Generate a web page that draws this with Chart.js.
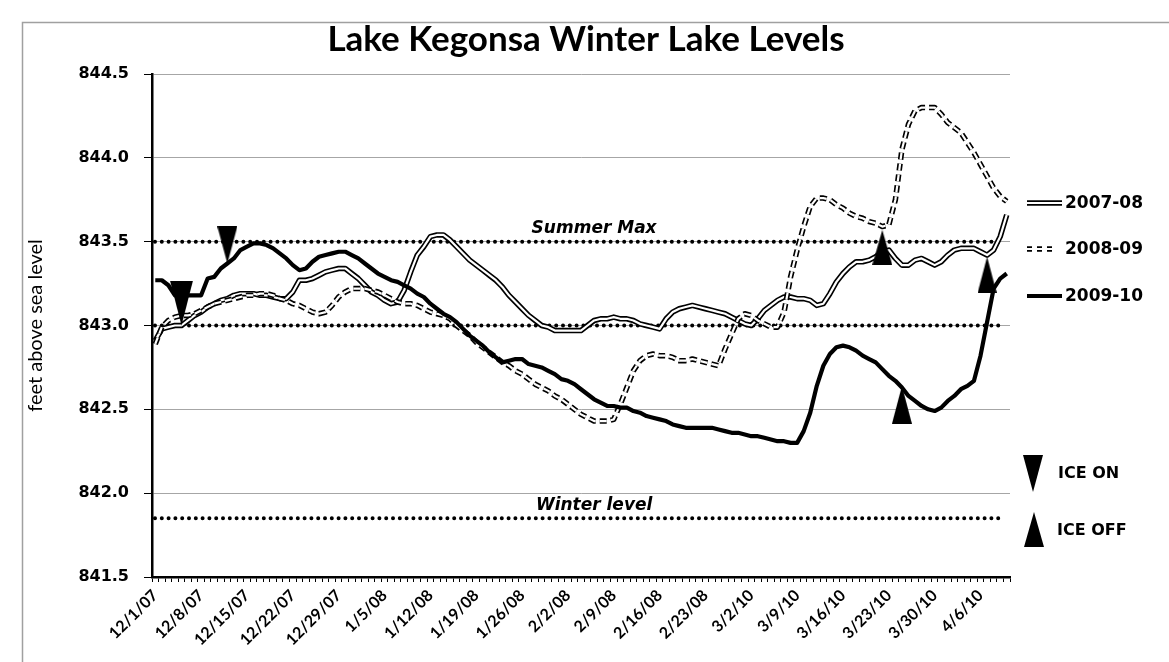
<!DOCTYPE html>
<html><head><meta charset="utf-8">
<script src="https://cdn.jsdelivr.net/npm/chart.js@4.4.0/dist/chart.umd.min.js"></script>
<style>html,body{margin:0;padding:0;background:#fff}#wrap{width:1169px;height:662px;position:relative}</style>
</head><body><div id="wrap"><canvas id="c" width="1169" height="662"></canvas></div>
<script>
const chartTitle = 'Lake Kegonsa Winter Lake Levels';
const yAxisTitle = 'feet above sea level';
const tickLabels = ['12/1/07','12/8/07','12/15/07','12/22/07','12/29/07','1/5/08','1/12/08','1/19/08','1/26/08','2/2/08','2/9/08','2/16/08','2/23/08','3/2/10','3/9/10','3/16/10','3/23/10','3/30/10','4/6/10'];
const dayCount = 131;
const seriesNames = ['2007-08','2008-09','2009-10'];
const markerNames = ['ICE ON','ICE OFF'];

const level2007_08 = [
842.91,842.98,842.99,843.00,843.00,843.03,843.06,843.08,843.11,843.13,
843.15,843.16,843.18,843.19,843.19,843.19,843.18,843.18,843.17,843.16,
843.16,843.20,843.27,843.27,843.28,843.30,843.32,843.33,843.34,843.34,
843.31,843.28,843.24,843.20,843.18,843.15,843.13,843.14,843.21,843.32,
843.42,843.47,843.53,843.54,843.54,843.51,843.47,843.43,843.39,843.36,
843.33,843.30,843.27,843.23,843.18,843.14,843.10,843.06,843.03,843.00,
842.99,842.97,842.97,842.97,842.97,842.97,843.00,843.03,843.04,843.04,
843.05,843.04,843.04,843.03,843.01,843.00,842.99,842.98,843.04,843.08,
843.10,843.11,843.12,843.11,843.10,843.09,843.08,843.07,843.05,843.03,
843.01,843.00,843.04,843.09,843.12,843.15,843.17,843.17,843.16,843.16,
843.15,843.12,843.13,843.19,843.26,843.31,843.35,843.38,843.38,843.39,
843.41,843.44,843.45,843.40,843.36,843.36,843.39,843.40,843.38,843.36,
843.38,843.42,843.45,843.46,843.46,843.46,843.44,843.42,843.45,843.53,
843.66];

const level2008_09 = [
842.89,842.99,843.03,843.05,843.06,843.06,843.07,843.09,843.11,843.13,
843.14,843.15,843.16,843.17,843.18,843.18,843.19,843.19,843.18,843.16,
843.15,843.13,843.12,843.10,843.08,843.07,843.08,843.12,843.17,843.20,
843.22,843.22,843.22,843.21,843.20,843.18,843.16,843.14,843.13,843.13,
843.12,843.10,843.08,843.07,843.06,843.04,843.00,842.97,842.94,842.90,
842.87,842.84,842.81,842.78,842.76,842.73,842.71,842.68,842.65,842.63,
842.61,842.58,842.56,842.53,842.50,842.47,842.45,842.43,842.43,842.43,
842.44,842.53,842.63,842.73,842.79,842.82,842.83,842.82,842.82,842.81,
842.79,842.79,842.80,842.79,842.78,842.77,842.76,842.86,842.95,843.04,
843.07,843.06,843.03,843.01,842.99,842.99,843.08,843.29,843.45,843.59,
843.71,843.76,843.76,843.75,843.72,843.70,843.67,843.65,843.64,843.62,
843.61,843.59,843.60,843.75,844.05,844.20,844.28,844.30,844.30,844.30,
844.26,844.21,844.18,844.15,844.09,844.03,843.96,843.89,843.82,843.77,
843.74];

const level2009_10 = [
843.27,843.27,843.24,843.18,843.18,843.18,843.18,843.18,843.28,843.29,
843.34,843.37,843.40,843.45,843.47,843.49,843.49,843.48,843.46,843.43,
843.40,843.36,843.33,843.34,843.38,843.41,843.42,843.43,843.44,843.44,
843.42,843.40,843.37,843.34,843.31,843.29,843.27,843.26,843.24,843.22,
843.19,843.17,843.13,843.10,843.07,843.05,843.02,842.98,842.94,842.91,
842.88,842.84,842.81,842.78,842.79,842.80,842.80,842.77,842.76,842.75,
842.73,842.71,842.68,842.67,842.65,842.62,842.59,842.56,842.54,842.52,
842.52,842.51,842.51,842.49,842.48,842.46,842.45,842.44,842.43,842.41,
842.40,842.39,842.39,842.39,842.39,842.39,842.38,842.37,842.36,842.36,
842.35,842.34,842.34,842.33,842.32,842.31,842.31,842.30,842.30,842.37,
842.48,842.64,842.76,842.83,842.87,842.88,842.87,842.85,842.82,842.80,
842.78,842.74,842.70,842.67,842.63,842.58,842.55,842.52,842.50,842.49,
842.51,842.55,842.58,842.62,842.64,842.67,842.82,843.02,843.22,843.28,
843.31];

const iceOnDays = [4, 11];
const iceOnLevels = [843.00, 843.37];
const iceOffDays = [111, 114, 127];
const iceOffLevels = [843.57, 842.64, 843.41];

const refLevels = [843.5, 843.0, 841.85];
const refNames = ['Summer Max', '', 'Winter level'];

const categories = Array.from({length: dayCount}, (_, i) => String(i));

function makeTri(w, h, down) {
  const c = document.createElement('canvas');
  c.width = w; c.height = 2 * h;
  const g = c.getContext('2d');
  g.fillStyle = '#000';
  g.beginPath();
  if (down) { g.moveTo(0, 0); g.lineTo(w, 0); g.lineTo(w / 2, h); }
  else { g.moveTo(w / 2, h); g.lineTo(w, 2 * h); g.lineTo(0, 2 * h); }
  g.closePath(); g.fill();
  return c;
}
const iceOnStyles = [makeTri(23, 45, true), makeTri(20, 37, true)];
const iceOffStyles = [makeTri(20, 35, false), makeTri(20, 38, false), makeTri(19, 36, false)];

const decor = {
  id: 'decor',
  beforeDraw(chart) {
    const ctx = chart.ctx;
    ctx.save();
    ctx.fillStyle = '#fff';
    ctx.fillRect(0, 0, chart.width, chart.height);
    ctx.strokeStyle = '#a0a0a0';
    ctx.lineWidth = 1.5;
    ctx.strokeRect(22.5, 22.5, 1300, 800);
    ctx.restore();
  },
  beforeDatasetsDraw(chart) {
    const ctx = chart.ctx, ys = chart.scales.y, xs = chart.scales.x, a = chart.chartArea;
    ctx.save();
    ctx.strokeStyle = '#000';
    ctx.lineWidth = 4;
    ctx.lineCap = 'round';
    ctx.setLineDash([0, 6.8]);
    refLevels.forEach(v => {
      const y = ys.getPixelForValue(v);
      ctx.beginPath(); ctx.moveTo(a.left + 3, y); ctx.lineTo(a.right - 7, y); ctx.stroke();
    });
    ctx.setLineDash([]);
    ctx.fillStyle = '#000';
    ctx.font = 'italic bold 17px "DejaVu Sans"';
    ctx.textAlign = 'center';
    ctx.textBaseline = 'middle';
    const lx = xs.getPixelForValue(67);
    refLevels.forEach((v, k) => {
      if (!refNames[k]) return;
      ctx.fillText(refNames[k], lx, ys.getPixelForValue(v) - 13);
    });
    ctx.restore();
  },
  afterDraw(chart) {
    const ctx = chart.ctx;
    ctx.save();
    ctx.fillStyle = '#000';
    ctx.font = 'bold 35px Lato';
    ctx.textAlign = 'center';
    ctx.textBaseline = 'middle';
    ctx.fillText(chartTitle, 586, 40);

    // legend
    const x0 = 1027, x1 = 1062, tx = 1065;
    const rows = [203, 249, 296];
    ctx.lineCap = 'butt';
    ctx.strokeStyle = '#000'; ctx.lineWidth = 5.5;
    ctx.beginPath(); ctx.moveTo(x0, rows[0]); ctx.lineTo(x1, rows[0]); ctx.stroke();
    ctx.strokeStyle = '#fff'; ctx.lineWidth = 2.2;
    ctx.beginPath(); ctx.moveTo(x0 - 1, rows[0]); ctx.lineTo(x1 + 1, rows[0]); ctx.stroke();
    ctx.setLineDash([5, 5]);
    ctx.strokeStyle = '#000'; ctx.lineWidth = 5.5;
    ctx.beginPath(); ctx.moveTo(x0, rows[1]); ctx.lineTo(x0 + 30, rows[1]); ctx.stroke();
    ctx.strokeStyle = '#fff'; ctx.lineWidth = 2.2;
    ctx.beginPath(); ctx.moveTo(x0, rows[1]); ctx.lineTo(x0 + 30, rows[1]); ctx.stroke();
    ctx.setLineDash([]);
    ctx.strokeStyle = '#000'; ctx.lineWidth = 4.2;
    ctx.beginPath(); ctx.moveTo(x0, rows[2]); ctx.lineTo(x1, rows[2]); ctx.stroke();

    ctx.font = 'bold 17px "DejaVu Sans"';
    ctx.textAlign = 'left';
    seriesNames.forEach((n, k) => ctx.fillText(n, tx, rows[k] + 1));

    ctx.beginPath(); ctx.moveTo(1023, 455); ctx.lineTo(1043, 455); ctx.lineTo(1033, 492); ctx.closePath(); ctx.fill();
    ctx.beginPath(); ctx.moveTo(1034, 512); ctx.lineTo(1044, 547); ctx.lineTo(1024, 547); ctx.closePath(); ctx.fill();
    ctx.font = 'bold 16px "DejaVu Sans"';
    ctx.fillText(markerNames[0], 1058, 474);
    ctx.fillText(markerNames[1], 1057, 531);
    ctx.restore();
  }
};

const lineBase = { pointRadius: 0, pointHoverRadius: 0, tension: 0, fill: false, borderJoinStyle: 'round' };

new Chart(document.getElementById('c'), {
  type: 'line',
  data: {
    labels: categories,
    datasets: [
      Object.assign({ label: seriesNames[0], data: level2007_08, borderColor: '#000', borderWidth: 5.5, order: 10 }, lineBase),
      Object.assign({ label: seriesNames[0] + ' inner', data: level2007_08, borderColor: '#fff', borderWidth: 2.2, order: 9 }, lineBase),
      Object.assign({ label: seriesNames[1], data: level2008_09, borderColor: '#000', borderWidth: 5.5, borderDash: [7, 4], order: 8 }, lineBase),
      Object.assign({ label: seriesNames[1] + ' inner', data: level2008_09, borderColor: '#fff', borderWidth: 2.2, borderDash: [7, 4], order: 7 }, lineBase),
      Object.assign({ label: seriesNames[2], data: level2009_10, borderColor: '#000', borderWidth: 4.2, order: 5 }, lineBase),
      {
        label: markerNames[0], showLine: false, order: 1,
        data: iceOnDays.map((d, k) => ({ x: String(d), y: iceOnLevels[k] })),
        pointStyle: iceOnStyles, pointRadius: 10, pointHoverRadius: 10,
        backgroundColor: '#000', borderColor: '#000'
      },
      {
        label: markerNames[1], showLine: false, order: 1,
        data: iceOffDays.map((d, k) => ({ x: String(d), y: iceOffLevels[k] })),
        pointStyle: iceOffStyles, pointRadius: 10, pointHoverRadius: 10,
        backgroundColor: '#000', borderColor: '#000'
      }
    ]
  },
  options: {
    responsive: false,
    animation: false,
    devicePixelRatio: 1,
    layout: { padding: { top: 74, right: 159, bottom: 0, left: 0 } },
    plugins: { legend: { display: false }, tooltip: { enabled: false }, title: { display: false } },
    scales: {
      x: {
        type: 'category', offset: true,
        grid: { display: true, drawOnChartArea: false, drawTicks: true, tickLength: 5, color: '#000', lineWidth: 1, offset: true },
        border: { display: true, color: '#000', width: 2.5 },
        ticks: {
          autoSkip: false, maxRotation: 45, minRotation: 45, padding: 4, color: '#000',
          font: { family: 'Lato', weight: 'bold', size: 16 },
          callback: (v, i) => (i % 7 === 0 ? tickLabels[i / 7] : '')
        },
        afterFit: s => { s.height = 85; }
      },
      y: {
        min: 841.5, max: 844.5,
        ticks: { stepSize: 0.5, padding: 15, color: '#000', font: { family: 'DejaVu Sans', weight: 'bold', size: 16 }, callback: v => Number(v).toFixed(1) },
        grid: { color: '#a6a6a6', lineWidth: 1, tickLength: 8, tickColor: '#000' },
        border: { color: '#000', width: 2.5 },
        title: { display: true, text: yAxisTitle, color: '#000', font: { family: 'Lato', size: 20 }, padding: { top: 24, bottom: 0 } },
        afterFit: s => { s.width = 152; }
      }
    }
  },
  plugins: [decor]
});
</script>
</body></html>
